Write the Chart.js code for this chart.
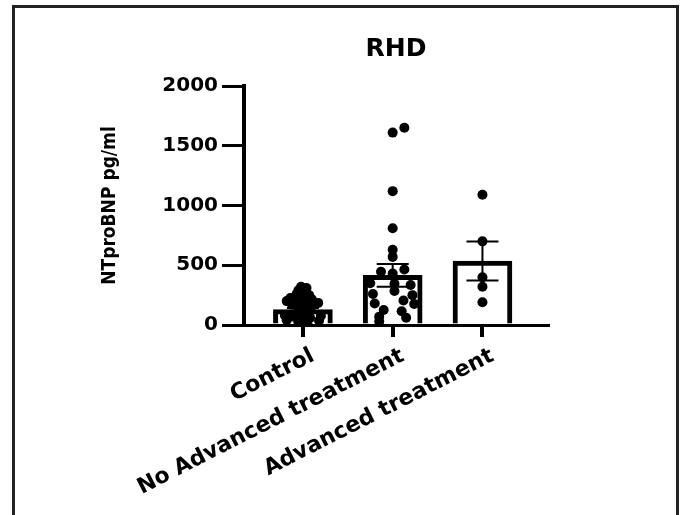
<!DOCTYPE html>
<html>
<head>
<meta charset="utf-8">
<script src="https://cdn.jsdelivr.net/npm/chart.js@4.4.0/dist/chart.umd.min.js"></script>
<style>
  html, body { margin: 0; padding: 0; background: #fff; }
  #wrap { width: 682px; height: 515px; position: relative; }
</style>
</head>
<body>
<div id="wrap"><canvas id="rhdChart"></canvas></div>
<script>
// RHD - NTproBNP per group
const categories = ['Control', 'No Advanced treatment', 'Advanced treatment'];
const groupMeans = [128, 415, 535];
const groupSem = [15, 95, 163];
const yTicks = [0, 500, 1000, 1500, 2000];

// individual patients, x = group position (with jitter as seen in the picture)
const controlPoints = [
    {x: 0.98, y: 320}, {x: 1.04, y: 310}, {x: 0.95, y: 290}, {x: 1.03, y: 285},
    {x: 0.93, y: 260}, {x: 1.0, y: 255}, {x: 1.07, y: 250}, {x: 0.86, y: 225},
    {x: 0.98, y: 220}, {x: 1.1, y: 215}, {x: 0.82, y: 200}, {x: 0.95, y: 195},
    {x: 1.03, y: 190}, {x: 1.17, y: 185}, {x: 0.88, y: 170}, {x: 1.0, y: 165},
    {x: 1.1, y: 160}, {x: 0.95, y: 140}, {x: 1.04, y: 130}, {x: 1.0, y: 120},
    {x: 0.97, y: 100}, {x: 1.03, y: 90}, {x: 0.8, y: 80}, {x: 1.2, y: 75},
    {x: 0.9, y: 70}, {x: 1.08, y: 60}, {x: 1.0, y: 50}, {x: 0.82, y: 40},
    {x: 1.18, y: 35}, {x: 0.95, y: 20}, {x: 1.05, y: 15}
];
const noAdvancedPoints = [
    {x: 2.13, y: 1650}, {x: 2.0, y: 1610}, {x: 2.0, y: 1120}, {x: 2.0, y: 810},
    {x: 2.0, y: 630}, {x: 2.0, y: 570}, {x: 2.13, y: 465}, {x: 1.87, y: 445},
    {x: 2.0, y: 430}, {x: 1.75, y: 350}, {x: 2.02, y: 345}, {x: 2.2, y: 335},
    {x: 2.02, y: 285}, {x: 1.78, y: 260}, {x: 2.22, y: 250}, {x: 2.12, y: 205},
    {x: 1.8, y: 180}, {x: 2.24, y: 175}, {x: 1.9, y: 125}, {x: 2.1, y: 115},
    {x: 1.85, y: 70}, {x: 2.15, y: 60}, {x: 1.85, y: 30}
];
const advancedPoints = [
    {x: 3.0, y: 1090}, {x: 3.0, y: 700}, {x: 3.0, y: 400}, {x: 3.0, y: 320}, {x: 3.0, y: 190}
];

// error bars (mean +/- SEM), drawn through the chart scales
const errorBars = {
    id: 'errorBars',
    afterDatasetsDraw(chart) {
        const ctx = chart.ctx;
        const xs = chart.scales.x;
        const ys = chart.scales.y;
        ctx.save();
        ctx.strokeStyle = '#000';
        ctx.lineWidth = 2;
        groupMeans.forEach((m, i) => {
            const x = xs.getPixelForValue(i + 1);
            const top = ys.getPixelForValue(m + groupSem[i]);
            const bot = ys.getPixelForValue(m - groupSem[i]);
            ctx.beginPath();
            ctx.moveTo(x, top);
            ctx.lineTo(x, bot);
            ctx.moveTo(x - 16, top);
            ctx.lineTo(x + 16, top);
            ctx.moveTo(x - 16, bot);
            ctx.lineTo(x + 16, bot);
            ctx.stroke();
        });
        ctx.restore();
    }
};

// frame around the figure
const frame = {
    id: 'frame',
    beforeDraw(chart) {
        const ctx = chart.ctx;
        ctx.save();
        ctx.strokeStyle = '#222';
        ctx.lineWidth = 3;
        ctx.strokeRect(13.5, 6.5, 664, 530);
        ctx.restore();
    }
};

const ctx = document.getElementById('rhdChart').getContext('2d');
const rhdChart = new Chart(ctx, {
    data: {
        datasets: [
            {
                type: 'scatter',
                data: controlPoints,
                backgroundColor: '#000',
                borderWidth: 0,
                pointRadius: 5,
                order: 1
            },
            {
                type: 'scatter',
                data: noAdvancedPoints,
                backgroundColor: '#000',
                borderWidth: 0,
                pointRadius: 5,
                order: 1
            },
            {
                type: 'scatter',
                data: advancedPoints,
                backgroundColor: '#000',
                borderWidth: 0,
                pointRadius: 5,
                order: 1
            },
            {
                type: 'bar',
                data: groupMeans.map((m, i) => ({x: i + 1, y: m})),
                backgroundColor: '#fff',
                borderColor: '#000',
                borderWidth: 5,
                barThickness: 59,
                order: 2
            }
        ]
    },
    options: {
        responsive: true,
        maintainAspectRatio: false,
        animation: false,
        layout: {
            padding: { left: 0, right: 134, top: 0, bottom: 0 }
        },
        plugins: {
            legend: { display: false },
            tooltip: { enabled: false },
            title: {
                display: true,
                text: 'RHD',
                color: '#000',
                fullSize: false,
                font: { family: 'DejaVu Sans', weight: 'bold', size: 25 },
                padding: { top: 34, bottom: 22 }
            }
        },
        scales: {
            x: {
                type: 'linear',
                offset: false,
                min: 0.344,
                max: 3.73,
                afterBuildTicks: scale => {
                    scale.ticks = categories.map((c, i) => ({ value: i + 1 }));
                },
                afterFit: scale => { scale.height = 190; },
                ticks: {
                    autoSkip: false,
                    minRotation: 27,
                    maxRotation: 27,
                    padding: 6,
                    labelOffset: 10,
                    color: '#000',
                    font: { family: 'DejaVu Sans', weight: 'bold', size: 22 },
                    callback: value => categories[Math.round(value) - 1]
                },
                grid: {
                    offset: false,
                    drawOnChartArea: false,
                    color: '#000',
                    lineWidth: 4,
                    tickLength: 12
                },
                border: { display: true, color: '#000', width: 3 }
            },
            y: {
                min: 0,
                max: 2000,
                afterBuildTicks: scale => {
                    scale.ticks = yTicks.map(v => ({ value: v }));
                },
                afterFit: scale => { scale.width = 244; },
                ticks: {
                    padding: 4,
                    color: '#000',
                    font: { family: 'DejaVu Sans', weight: 'bold', size: 20 },
                    callback: value => String(value)
                },
                grid: {
                    drawOnChartArea: false,
                    color: '#000',
                    lineWidth: 3,
                    tickLength: 22
                },
                border: { display: true, color: '#000', width: 4 },
                title: {
                    display: true,
                    text: 'NTproBNP pg/ml',
                    color: '#000',
                    font: { family: "'DejaVu Sans Condensed', 'Liberation Sans', sans-serif", weight: 'bold', size: 19 },
                    padding: { top: 99, bottom: 0 }
                }
            }
        }
    },
    plugins: [frame, errorBars]
});
</script>
</body>
</html>
